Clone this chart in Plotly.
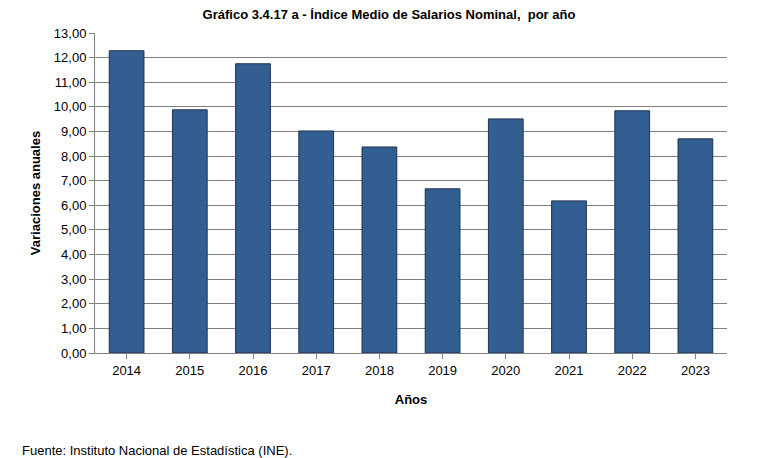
import plotly.graph_objects as go

years = ["2014","2015","2016","2017","2018","2019","2020","2021","2022","2023"]
values = [12.28, 9.88, 11.75, 9.02, 8.37, 6.67, 9.51, 6.18, 9.84, 8.70]
yticks = [i for i in range(14)]
yticklabels = [f"{i},00" for i in range(14)]

fig = go.Figure(go.Bar(x=years, y=values, marker=dict(color="#335e92", line=dict(color="#1f3350", width=1)), width=0.55))
fig.update_layout(
    width=762, height=458, paper_bgcolor="white", plot_bgcolor="white",
    margin=dict(l=87, r=43, t=25, b=113),
    font=dict(family="Liberation Sans, Arial", size=13, color="black"),
    title=dict(text="<b>Gráfico 3.4.17 a - Índice Medio de Salarios Nominal,  por año</b>", x=0.5, xanchor="center", y=0.995, yanchor="top", font=dict(size=13)),
    showlegend=False,
)
fig.update_yaxes(range=[0,13], tickvals=yticks, ticktext=yticklabels, showgrid=True, gridcolor="#808080", gridwidth=1,
                 showline=True, linecolor="#808080", ticks="outside", ticklen=5, tickcolor="#808080",
                 title=dict(text="<b>Variaciones anuales</b>", standoff=10, font=dict(size=13)))
fig.update_xaxes(showline=True, linecolor="#808080", mirror=False, ticks="outside", ticklen=5, tickcolor="#808080",
                 title=dict(text="<b>Años</b>", standoff=18, font=dict(size=13)))
fig.add_annotation(text="Fuente: Instituto Nacional de Estadística (INE).", xref="paper", yref="paper",
                   x=-0.119, y=-0.306, xanchor="left", yanchor="middle", showarrow=False, font=dict(size=13))
fig.write_html("out.html")
